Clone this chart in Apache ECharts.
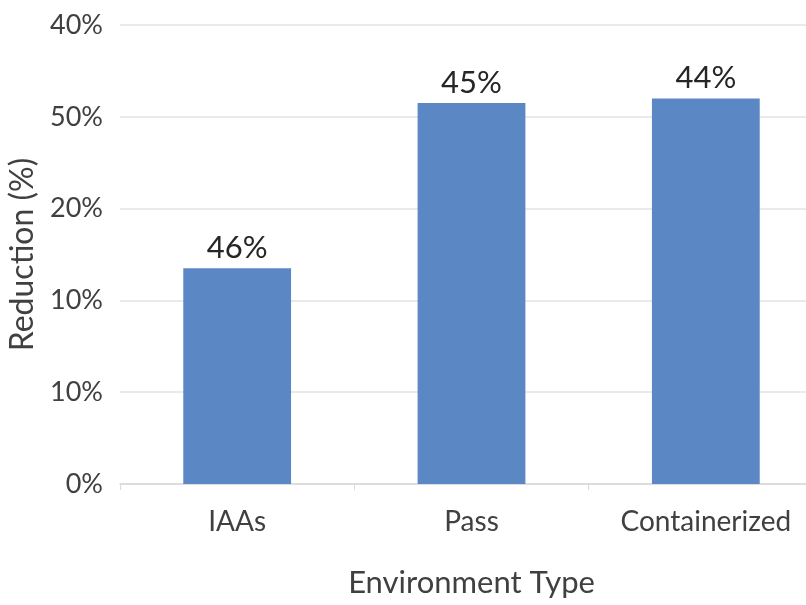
<!DOCTYPE html>
<html>
<head>
<meta charset="utf-8">
<script src="https://cdn.jsdelivr.net/npm/echarts@6/dist/echarts.min.js"></script>
<style>
  html, body { margin: 0; padding: 0; background: #fff; }
  #main { width: 806px; height: 605px; }
</style>
</head>
<body>
<div id="main"></div>
<script>
// categories and values
var categories = ['IAAs', 'Pass', 'Containerized'];
// bar heights in gridline steps (the axis labels are not evenly valued)
var barHeights = [2.35, 4.15, 4.2];
var barLabels = ['46%', '45%', '44%'];
// tick labels from bottom to top, as printed
var tickLabels = ['0%', '10%', '10%', '20%', '50%', '40%'];

var chart = echarts.init(document.getElementById('main'));

var option = {
  backgroundColor: '#ffffff',
  textStyle: { fontFamily: 'Lato' },
  grid: {
    left: 120,
    top: 25,
    width: 703,
    height: 459,
    outerBoundsMode: 'none'
  },
  xAxis: {
    type: 'category',
    data: categories,
    name: 'Environment Type',
    nameLocation: 'middle',
    nameGap: 83,
    nameTextStyle: { fontSize: 31, color: '#404040' },
    axisLine: { lineStyle: { color: '#d9d9d9', width: 1.5 } },
    axisTick: { show: true, length: 6, lineStyle: { color: '#d9d9d9' } },
    axisLabel: { fontSize: 28, color: '#404040', margin: 24 }
  },
  yAxis: {
    type: 'value',
    min: 0,
    max: 5,
    interval: 1,
    name: 'Reduction (%)',
    nameLocation: 'middle',
    nameGap: 80,
    nameTextStyle: { fontSize: 32, color: '#404040' },
    axisLine: { show: false },
    axisTick: { show: false },
    axisLabel: {
      fontSize: 27,
      color: '#404040',
      margin: 17,
      formatter: function (v) { return tickLabels[Math.round(v)]; }
    },
    splitLine: { lineStyle: { color: '#e3e3e3', width: 1.5 } }
  },
  series: [{
    type: 'bar',
    data: barHeights,
    barWidth: '46%',
    itemStyle: { color: '#5b87c5' },
    label: {
      show: true,
      position: 'top',
      distance: 5,
      fontSize: 31,
      color: '#262626',
      formatter: function (p) { return barLabels[p.dataIndex]; }
    }
  }]
};

chart.setOption(option);
</script>
</body>
</html>
